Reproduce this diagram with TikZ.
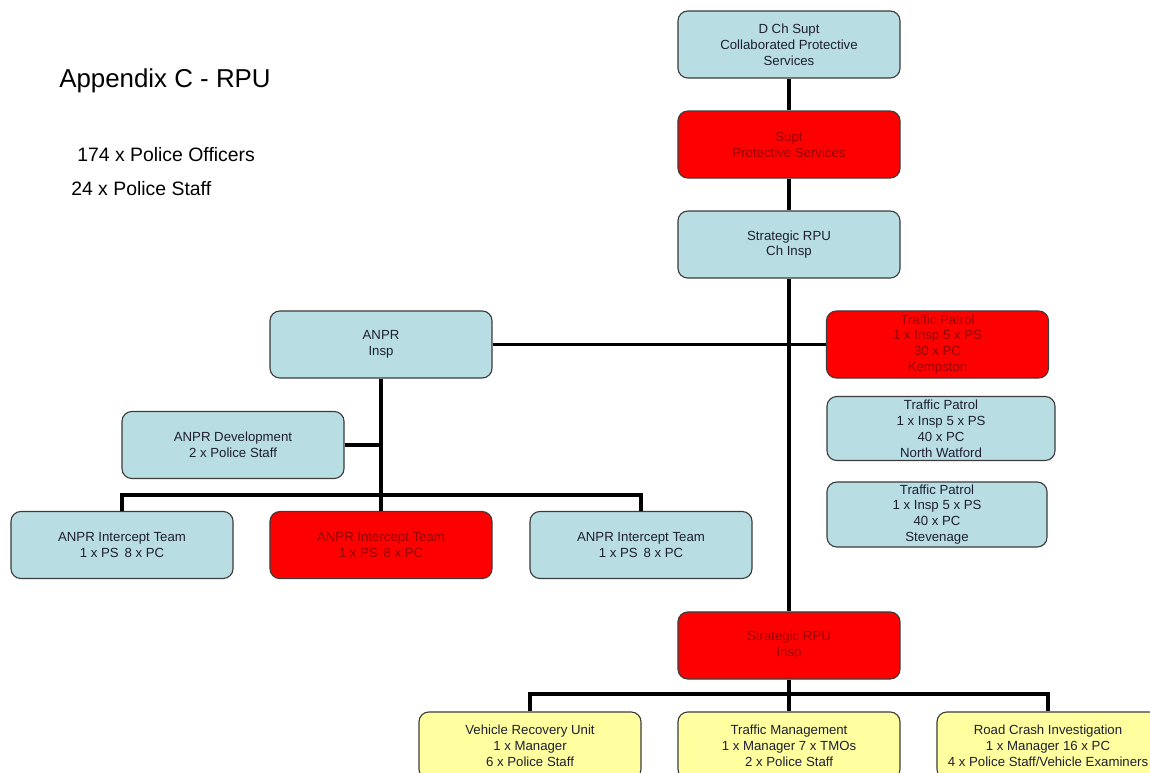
\documentclass[tikz,border=0pt]{standalone}
\usepackage{fontspec}
\setmainfont{Liberation Sans}
\usepackage{tikz}
\usetikzlibrary{positioning}
\usepackage{xcolor}
\definecolor{boxblue}{RGB}{184,222,228}
\definecolor{boxred}{RGB}{255,0,0}
\definecolor{boxyellow}{RGB}{255,255,160}
\definecolor{boxedge}{RGB}{60,60,60}
\definecolor{txtdark}{RGB}{30,30,50}
\definecolor{txtred}{RGB}{150,0,0}

\begin{document}
\begin{tikzpicture}[x=0.025cm, y=-0.025cm, node distance=2.5cm,
        box/.style={draw=boxedge, line width=0.8pt, rounded corners=7pt,
            minimum width=5.55cm, minimum height=1.675cm, align=center,
            inner sep=1pt, font=\fontsize{9.4}{11.3}\selectfont, text=txtdark},
        blubox/.style={box, fill=boxblue},
        redbox/.style={box, fill=boxred, text=txtred},
        ylwbox/.style={box, fill=boxyellow},
        link/.style={line width=2.6pt}]
        \clip (0,0) rectangle (1150,773);
        \fill[white] (0,0) rectangle (1150,773);

        % Texts
        \node (title) [anchor=base west, inner sep=0pt, font=\fontsize{18.4}{22}\selectfont] at (59,88) {Appendix C - RPU};
        \node (pol) [anchor=base west, inner sep=0pt, font=\fontsize{13.8}{16}\selectfont] at (77,162) {174 x Police Officers};
        \node (stf) [anchor=base west, inner sep=0pt, font=\fontsize{13.8}{16}\selectfont] at (71,196) {24 x Police Staff};

        % Nodes
        \node (dcs) [blubox] at (789,44.5) {D Ch Supt\\Collaborated Protective\\Services};
        \node (supt) [below of=dcs, redbox] {Supt\\Protective Services};
        \node (chi) [below of=supt, blubox] {Strategic RPU\\Ch Insp};
        \node (anpr) [blubox] at (381,344.5) {ANPR\\Insp};
        \node (tpk) [redbox] at (937.5,344.5) {Traffic Patrol\\1 x Insp 5 x PS\\30 x PC\\Kempston};
        \node (tpn) [blubox, minimum width=5.7cm, minimum height=1.6cm] at (941,428.5) {Traffic Patrol\\1 x Insp 5 x PS\\40 x PC\\North Watford};
        \node (tps) [blubox, minimum width=5.5cm, minimum height=1.625cm] at (937,514.5) {Traffic Patrol\\1 x Insp 5 x PS\\40 x PC\\Stevenage};
        \node (dev) [blubox] at (233,445) {ANPR Development\\2 x Police Staff};
        \node (ic1) [blubox] at (122,545) {ANPR Intercept Team\\1 x PS\, 8 x PC};
        \node (ic2) [below of=anpr, node distance=5.0125cm, redbox] {ANPR Intercept Team\\1 x PS\, 8 x PC};
        \node (ic3) [blubox] at (641,545) {ANPR Intercept Team\\1 x PS\, 8 x PC};
        \node (rpi) [redbox] at (789,645.5) {Strategic RPU\\Insp};
        \node (vru) [ylwbox] at (530,745.5) {Vehicle Recovery Unit\\1 x Manager\\6 x Police Staff};
        \node (tm) [ylwbox] at (789,745.5) {Traffic Management\\1 x Manager 7 x TMOs\\2 x Police Staff};
        \node (rci) [ylwbox] at (1048,745.5) {Road Crash Investigation\\1 x Manager 16 x PC\\4 x Police Staff/Vehicle Examiners};

        \coordinate (anprbus) at (381,495);
        \coordinate (rpibus) at (789,694);

        % Lines
        \draw[link] (dcs) -- (supt);
        \draw[link] (supt) -- (chi);
        \draw[link] (chi) -- (rpi);
        \draw[link] (anpr.east) -- (tpk.west);

        \draw[link] (anpr) -- (ic2);
        \draw[link] (dev.east) -- (dev.east -| anprbus);
        \draw[link] (ic1.north) |- (anprbus) -| (ic3.north);

        \draw[link] (rpi) -- (tm);
        \draw[link] (vru.north) |- (rpibus) -| (rci.north);

    \end{tikzpicture}
\end{document}
